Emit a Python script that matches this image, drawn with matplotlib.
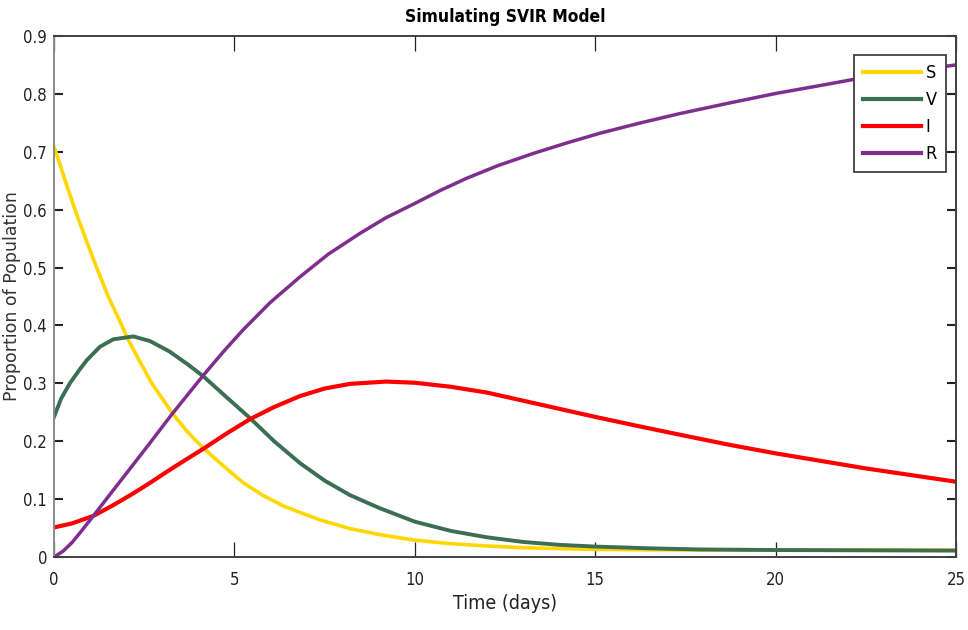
import os
import matplotlib
matplotlib.use('Agg')
import matplotlib.pyplot as plt
from matplotlib import font_manager as fm

# values
t_s = [0, 0.3, 0.58, 0.9, 1.18, 1.51, 1.88, 2.01, 2.35, 2.71, 3.26, 3.7, 4.14, 4.7, 5.25, 5.8, 6.36, 6.82, 7.37,
       8.2, 9, 10, 11, 12, 13, 15, 18, 25]
S = [0.709, 0.652, 0.600, 0.546, 0.500, 0.449, 0.400, 0.381, 0.341, 0.300, 0.250, 0.216, 0.188, 0.157, 0.128, 0.106,
     0.088, 0.077, 0.064, 0.049, 0.039, 0.029, 0.023, 0.019, 0.016, 0.013, 0.012, 0.012]

t_v = [0, 0.2, 0.44, 0.7, 0.91, 1.27, 1.64, 2.2, 2.66, 3.2, 3.7, 4.14, 4.8, 5.43, 6.1, 6.82, 7.5, 8.2, 9, 10, 11,
       12, 13, 14, 15, 16.5, 17.9, 20, 25]
V = [0.242, 0.274, 0.300, 0.323, 0.340, 0.363, 0.376, 0.381, 0.373, 0.355, 0.333, 0.312, 0.275, 0.240, 0.200,
     0.162, 0.132, 0.107, 0.085, 0.061, 0.045, 0.034, 0.026, 0.021, 0.018, 0.015, 0.013, 0.012, 0.011]

t_i = [0, 0.5, 1.09, 1.6, 2.2, 2.66, 3.12, 3.6, 4.14, 4.8, 5.43, 6.1, 6.82, 7.5, 8.2, 9.2, 10, 11, 12, 13, 14, 15,
       16.2, 17.44, 18.7, 20, 22.5, 25]
I = [0.051, 0.058, 0.071, 0.088, 0.110, 0.128, 0.147, 0.166, 0.187, 0.214, 0.238, 0.259, 0.278, 0.291, 0.299,
     0.303, 0.301, 0.294, 0.284, 0.270, 0.256, 0.242, 0.226, 0.210, 0.194, 0.179, 0.153, 0.130]

t_r = [0, 0.25, 0.5, 0.75, 1.09, 1.6, 2.2, 2.66, 3.26, 4.14, 4.7, 5.25, 6, 6.82, 7.6, 8.48, 9.2, 10.01, 10.7,
       11.43, 12.3, 13.28, 14.2, 15.13, 16.2, 17.35, 18.7, 20.03, 21.2, 22.34, 23.7, 25]
R = [0.0, 0.010, 0.025, 0.044, 0.071, 0.112, 0.160, 0.197, 0.246, 0.314, 0.355, 0.393, 0.440, 0.484, 0.523, 0.559,
     0.586, 0.611, 0.633, 0.654, 0.676, 0.697, 0.715, 0.732, 0.749, 0.766, 0.784, 0.801, 0.814, 0.827, 0.839, 0.850]

labels = ['S', 'V', 'I', 'R']
colors = ['#FFD700', '#3B6E53', '#FF0000', '#7E2F8E']


def narrow_font(size, bold=False):
    # look for a condensed face, fall back to plain DejaVu
    if bold:
        names = ['LiberationSansNarrow-Bold.ttf', 'DejaVuSansCondensed-Bold.ttf']
    else:
        names = ['LiberationSansNarrow-Regular.ttf', 'DejaVuSansCondensed.ttf']
    for n in names:
        for f in fm.fontManager.ttflist:
            if os.path.basename(f.fname) == n:
                return fm.FontProperties(fname=f.fname, size=size)
    return fm.FontProperties(family='DejaVu Sans', stretch='condensed',
                             weight='bold' if bold else 'normal', size=size)


tick_fp = narrow_font(12)

fig = plt.figure(figsize=(9.68, 6.3), dpi=100)
ax = fig.add_axes([0.0558, 0.1159, 0.9318, 0.827])

ax.plot(t_s, S, color=colors[0], lw=2.6, label=labels[0])
ax.plot(t_v, V, color=colors[1], lw=2.8, label=labels[1])
ax.plot(t_i, I, color=colors[2], lw=3.0, label=labels[2])
ax.plot(t_r, R, color=colors[3], lw=2.5, label=labels[3])

ax.set_xlim(0, 25)
ax.set_ylim(0, 0.9)
ax.set_xticks([0, 5, 10, 15, 20, 25])
ax.set_yticks([0, 0.1, 0.2, 0.3, 0.4, 0.5, 0.6, 0.7, 0.8, 0.9])
ax.set_yticklabels(['0', '0.1', '0.2', '0.3', '0.4', '0.5', '0.6', '0.7', '0.8', '0.9'])
ax.tick_params(axis='x', direction='in', length=11, width=0.9, top=True, colors='#222222', pad=10)
ax.tick_params(axis='y', direction='in', length=6.5, width=1.5, right=True, colors='#222222', pad=5)
for lab in ax.get_xticklabels() + ax.get_yticklabels():
    lab.set_fontproperties(tick_fp)

for side in ['top', 'right', 'bottom']:
    ax.spines[side].set_color('#404040')
    ax.spines[side].set_linewidth(1.4)
ax.spines['left'].set_color('#8a8a8a')
ax.spines['left'].set_linewidth(1.4)

ax.set_title('Simulating SVIR Model', fontproperties=narrow_font(12.5, bold=True), pad=10)
ax.set_xlabel('Time (days)', fontproperties=narrow_font(14), color='#222222')
ax.xaxis.set_label_coords(0.5, -0.072)
ax.set_ylabel('Proportion of Population', family='DejaVu Sans', fontsize=12.5, color='#333333')
ax.yaxis.set_label_coords(-0.037, 0.5)

leg = ax.legend(loc='upper right', bbox_to_anchor=(0.9889, 0.9635), borderaxespad=0,
                fancybox=False, framealpha=1, edgecolor='#404040', handlelength=3.2,
                labelspacing=0.5, handletextpad=0.25, borderpad=0.5,
                prop=narrow_font(13))
leg.get_frame().set_linewidth(1.3)
for line in leg.get_lines():
    line.set_linewidth(3)

fig.savefig('out.png', dpi=100)
